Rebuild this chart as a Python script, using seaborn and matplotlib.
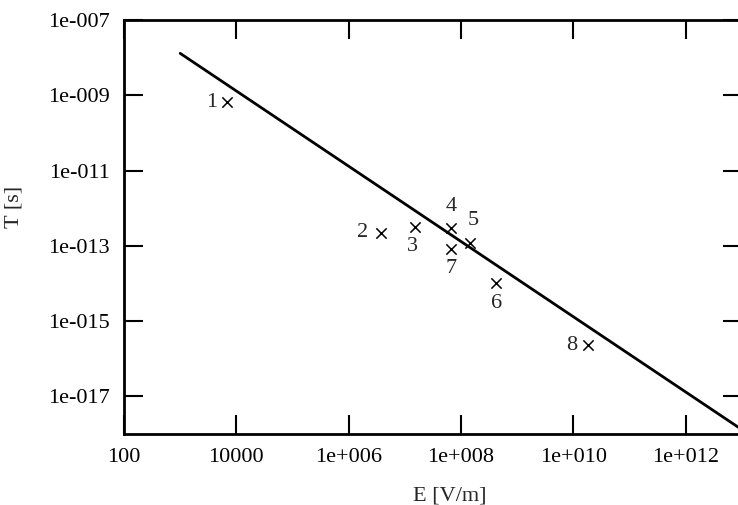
import numpy as np
import pandas as pd
import matplotlib
matplotlib.use("Agg")
import matplotlib.pyplot as plt
import seaborn as sns

# measured points (E in V/m, T in s)
point_labels = ["1", "2", "3", "4", "5", "6", "7", "8"]
point_E = [6.9e3, 3.8e6, 1.5e7, 6.6e7, 1.45e8, 4.2e8, 6.6e7, 1.8e10]
point_T = [6.6e-10, 2.2e-13, 3.2e-13, 3.0e-13, 1.2e-13, 1.0e-14, 8.3e-14, 2.3e-16]

# fitted line T ~ 1/E
line_E = [1e3, 1e13]
line_T = [1.3e-8, 1.3e-18]

x_ticks = [1e2, 1e4, 1e6, 1e8, 1e10, 1e12]
x_ticklabels = ["100", "10000", "1e+006", "1e+008", "1e+010", "1e+012"]
y_ticks = [1e-17, 1e-15, 1e-13, 1e-11, 1e-9, 1e-7]
y_ticklabels = ["1e-017", "1e-015", "1e-013", "1e-011", "1e-009", "1e-007"]

# label offsets in pixels relative to the marker
label_offsets = [(-16, 0), (-19, 0), (-2, -20), (0, 21), (3, 22), (0, -20), (0, -20), (-16, 0)]

sns.set_theme(style="ticks")
plt.rcParams['font.family'] = ['Liberation Serif', 'DejaVu Serif']

fig = plt.figure(figsize=(7.38, 5.05), dpi=100)
ax = fig.add_axes([124 / 738, 71 / 505, 618 / 738, 414 / 505])

points = pd.DataFrame({"E": point_E, "T": point_T, "label": point_labels})
line = pd.DataFrame({"E": line_E, "T": line_T})

sns.lineplot(data=line, x="E", y="T", color="black", linewidth=2, ax=ax)
sns.scatterplot(data=points, x="E", y="T", marker="x", color="black",
                s=55, linewidth=1.1, ax=ax, zorder=3)

for (lbl, e, t), (dx, dy) in zip(zip(point_labels, point_E, point_T), label_offsets):
    ax.annotate(lbl, (e, t), xytext=(dx, dy), textcoords="offset pixels",
                ha="center", va="center", fontsize=16)

ax.set_xscale("log")
ax.set_yscale("log")
ax.set_xlim(1e2, 1e13)
ax.set_ylim(1e-18, 1e-7)
ax.set_xticks(x_ticks)
ax.set_xticklabels(x_ticklabels)
ax.set_yticks(y_ticks)
ax.set_yticklabels(y_ticklabels)
ax.minorticks_off()

ax.tick_params(axis="both", which="major", direction="in", length=14,
               width=1.5, pad=10, labelsize=16, colors="black",
               top=True, right=True)

for side in ["left", "bottom", "top", "right"]:
    ax.spines[side].set_visible(True)
    ax.spines[side].set_linewidth(2)
    ax.spines[side].set_color("black")

ax.set_xlabel("E [V/m]", fontsize=16)
ax.set_ylabel("T [s]", fontsize=16)
ax.xaxis.set_label_coords(0.527, -0.126)
ax.yaxis.set_label_coords(-0.163, 0.548)

fig.savefig("out.png", dpi=100)
